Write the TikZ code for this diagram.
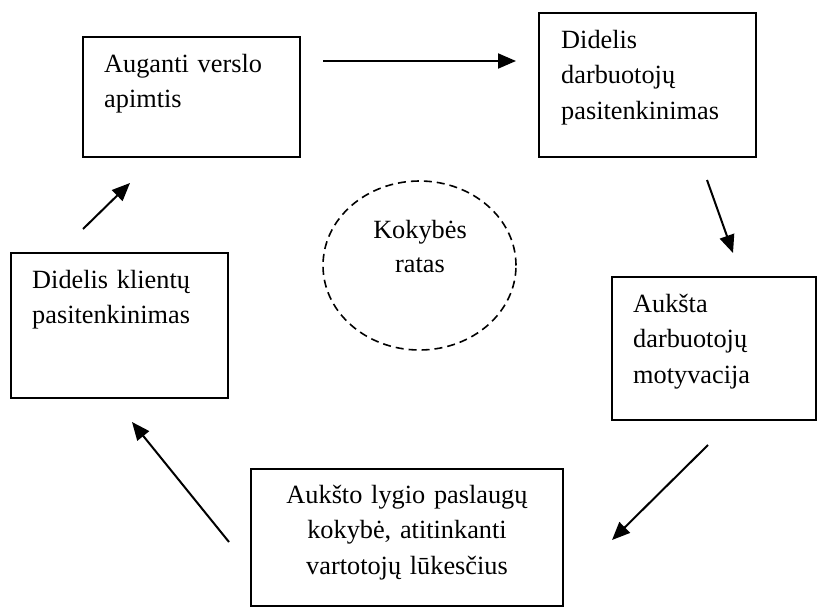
\documentclass[tikz,border=0pt]{standalone}
\usepackage{fontspec}
\setmainfont{Liberation Serif}
\usetikzlibrary{arrows.meta,shapes.geometric}
\begin{document}
\begin{tikzpicture}[x=1pt,y=-1pt,
  box/.style={draw, line width=1.8pt, rectangle, inner sep=0pt},
  boxtext/.style={anchor=base west, inner sep=0pt, text width=200pt, align=left,
    font=\fontsize{26.3}{35.5}\selectfont},
  midtext/.style={anchor=base, inner sep=0pt, text width=300pt, align=center,
    font=\fontsize{26.3}{35.5}\selectfont},
  flow/.style={line width=2pt, -{Triangle[length=18pt,width=15pt]}},
]
\useasboundingbox (0,0) rectangle (818,608);

% boxes of the cycle
\node[box, minimum width=217pt, minimum height=120pt] (growth) at (191.5,97) {};
\node[box, minimum width=217pt, minimum height=144pt] (staffsat) at (647.5,85) {};
\node[box, minimum width=204pt, minimum height=143pt] (motiv) at (714,348.5) {};
\node[box, minimum width=312pt, minimum height=137pt] (service) at (407,537.5) {};
\node[box, minimum width=217pt, minimum height=145pt] (clientsat) at (119.5,325.5) {};

% texts in the boxes
\node[boxtext] (growthtxt) at (104,72) {Auganti verslo\\apimtis};
\node[boxtext] (staffsattxt) at (561,48) {Didelis\\darbuotojų\\pasitenkinimas};
\node[boxtext] (motivtxt) at (633,312) {Aukšta\\darbuotojų\\motyvacija};
\node[midtext] (servicetxt) at (407,503) {Aukšto lygio paslaugų\\kokybė, atitinkanti\\vartotojų lūkesčius};
\node[boxtext] (clientsattxt) at (32,288) {Didelis klientų\\pasitenkinimas};

% quality circle in the middle
\node[draw, dashed, dash pattern=on 8pt off 5pt, line width=1.6pt, ellipse,
  minimum width=193pt, minimum height=169pt, inner sep=0pt] (circle) at (419.5,265.5) {};
\node[midtext, text width=150pt, font=\fontsize{26.3}{34}\selectfont] (circletxt) at (420,238) {Kokybės\\ratas};

% arrow end points
\coordinate (a1s) at (323,61);   \coordinate (a1e) at (516,61);
\coordinate (a2s) at (707,180);  \coordinate (a2e) at (733,253);
\coordinate (a3s) at (708,445);  \coordinate (a3e) at (612,540);
\coordinate (a4s) at (229,542);  \coordinate (a4e) at (132,422);
\coordinate (a5s) at (83,229);   \coordinate (a5e) at (130,183);

\draw[flow] (a1s) -- (a1e);
\draw[flow] (a2s) -- (a2e);
\draw[flow] (a3s) -- (a3e);
\draw[flow] (a4s) -- (a4e);
\draw[flow] (a5s) -- (a5e);
\end{tikzpicture}
\end{document}
